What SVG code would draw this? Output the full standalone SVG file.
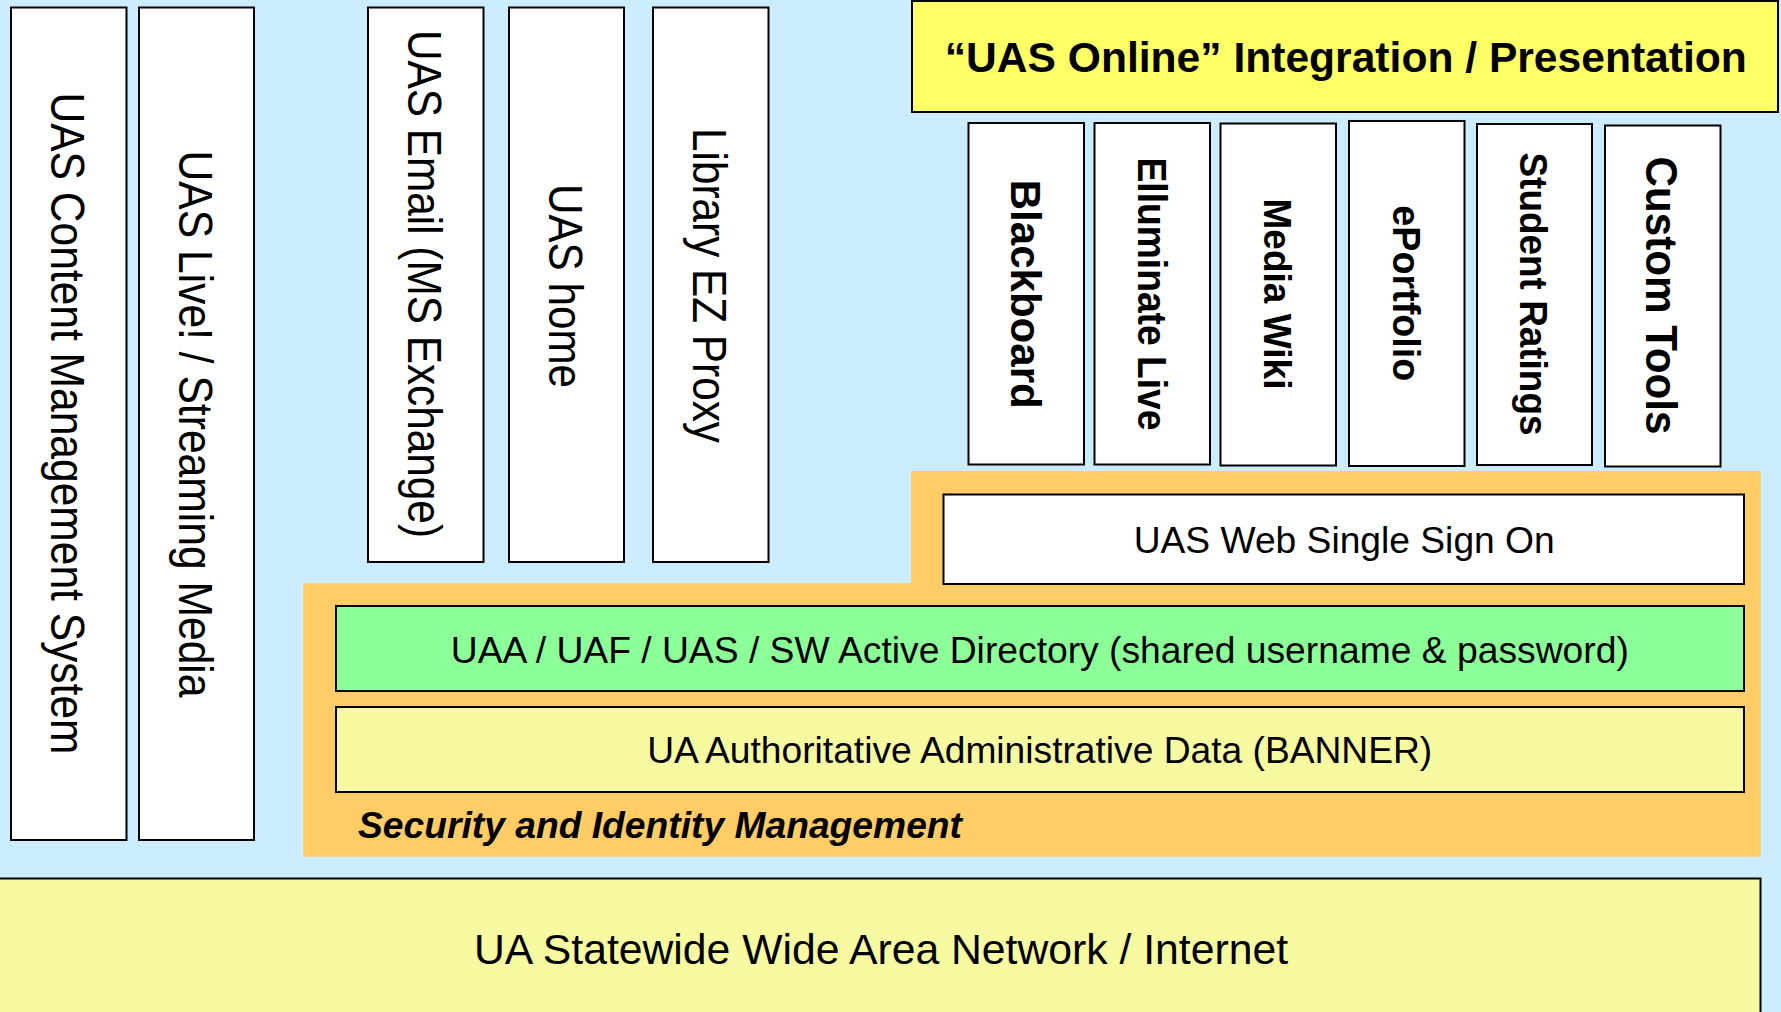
<svg xmlns="http://www.w3.org/2000/svg" width="1781" height="1012" viewBox="0 0 1781 1012">
<style>
.box{fill:#FFFFFF;stroke:#000000;stroke-width:2}
.t{font-family:"Liberation Sans",Arial,sans-serif;fill:#000000}
.v{font-size:48px;text-anchor:middle}
.vb{font-weight:bold;text-anchor:middle}
.h{font-size:37px;text-anchor:middle}
</style>
<rect x="0" y="0" width="1781" height="1012" fill="#CCECFF"/>
<g id="security-zone">
<path d="M911,471 H1760.7 V856.7 H303.3 V583.3 H911 Z" fill="#FFCC66"/>
<text class="t" x="358" y="837.7" font-size="37" font-weight="bold" font-style="italic" textLength="604" lengthAdjust="spacingAndGlyphs">Security and Identity Management</text>
</g>
<g id="cms">
<rect class="box" x="11" y="7.5" width="115.5" height="832.5"/>
<text class="t v" transform="translate(68.5,423.5) rotate(90)" x="0" y="17.2" textLength="662" lengthAdjust="spacingAndGlyphs">UAS Content Management System</text>
</g>
<g id="live">
<rect class="box" x="139" y="7.5" width="115" height="832.5"/>
<text class="t v" transform="translate(196.5,424) rotate(90)" x="0" y="17.2" textLength="547" lengthAdjust="spacingAndGlyphs">UAS Live! / Streaming Media</text>
</g>
<g id="email">
<rect class="box" x="368" y="7.5" width="115.5" height="554.5"/>
<text class="t v" transform="translate(425,284) rotate(90)" x="0" y="17.2" textLength="508" lengthAdjust="spacingAndGlyphs">UAS Email (MS Exchange)</text>
</g>
<g id="home">
<rect class="box" x="509" y="7.5" width="115" height="554.5"/>
<text class="t v" transform="translate(566,286) rotate(90)" x="0" y="17.2" textLength="204" lengthAdjust="spacingAndGlyphs">UAS home</text>
</g>
<g id="library">
<rect class="box" x="653" y="7.5" width="115.5" height="554.5"/>
<text class="t v" transform="translate(710,285.5) rotate(90)" x="0" y="17.2" textLength="315" lengthAdjust="spacingAndGlyphs">Library EZ Proxy</text>
</g>
<g id="uas-online">
<rect x="912" y="1" width="866" height="111" fill="#FFFF66" stroke="#000000" stroke-width="2"/>
<text class="t" x="1345.8" y="71.7" font-size="42" font-weight="bold" text-anchor="middle" textLength="802" lengthAdjust="spacingAndGlyphs">“UAS Online” Integration / Presentation</text>
</g>
<g id="blackboard">
<rect class="box" x="968.5" y="123" width="115.5" height="341.5"/>
<text class="t vb" font-size="43" transform="translate(1026,294.2) rotate(90)" x="0" y="15.4" textLength="229" lengthAdjust="spacingAndGlyphs">Blackboard</text>
</g>
<g id="elluminate">
<rect class="box" x="1094.5" y="123" width="115.5" height="341.5"/>
<text class="t vb" font-size="40" transform="translate(1152,294) rotate(90)" x="0" y="14.3" textLength="273" lengthAdjust="spacingAndGlyphs">Elluminate Live</text>
</g>
<g id="mediawiki">
<rect class="box" x="1220.5" y="123.5" width="115.5" height="342"/>
<text class="t vb" font-size="38" transform="translate(1278,294) rotate(90)" x="0" y="13.6" textLength="191" lengthAdjust="spacingAndGlyphs">Media Wiki</text>
</g>
<g id="eportfolio">
<rect class="box" x="1349" y="121" width="115.5" height="345"/>
<text class="t vb" font-size="39" transform="translate(1407,293.3) rotate(90)" x="0" y="14" textLength="176" lengthAdjust="spacingAndGlyphs">ePortfolio</text>
</g>
<g id="ratings">
<rect class="box" x="1477" y="124" width="115" height="341"/>
<text class="t vb" font-size="39" transform="translate(1534,294) rotate(90)" x="0" y="14" textLength="283" lengthAdjust="spacingAndGlyphs">Student Ratings</text>
</g>
<g id="customtools">
<rect class="box" x="1605" y="125.5" width="115.5" height="341"/>
<text class="t vb" font-size="45" transform="translate(1661.7,295.5) rotate(90)" x="0" y="16.1" textLength="278" lengthAdjust="spacingAndGlyphs">Custom Tools</text>
</g>
<g id="sso">
<rect class="box" x="943.5" y="494.5" width="800.5" height="89.5"/>
<text class="t h" x="1344.2" y="552.7" textLength="421" lengthAdjust="spacingAndGlyphs">UAS Web Single Sign On</text>
</g>
<g id="directory">
<rect x="336" y="606" width="1408" height="85" fill="#8CFF99" stroke="#000000" stroke-width="2"/>
<text class="t h" x="1039.8" y="663.3" textLength="1178" lengthAdjust="spacingAndGlyphs">UAA / UAF / UAS / SW Active Directory (shared username &amp; password)</text>
</g>
<g id="banner">
<rect x="336" y="707" width="1408" height="85" fill="#F7FAA0" stroke="#000000" stroke-width="2"/>
<text class="t h" x="1039.7" y="763.3" textLength="785" lengthAdjust="spacingAndGlyphs">UA Authoritative Administrative Data (BANNER)</text>
</g>
<g id="network">
<rect x="-1" y="878.5" width="1761.5" height="140" fill="#F7FAA0" stroke="#000000" stroke-width="2"/>
<text class="t" x="881" y="964" font-size="42" text-anchor="middle" textLength="814" lengthAdjust="spacingAndGlyphs">UA Statewide Wide Area Network / Internet</text>
</g>
<g id="connectors"></g>
</svg>
